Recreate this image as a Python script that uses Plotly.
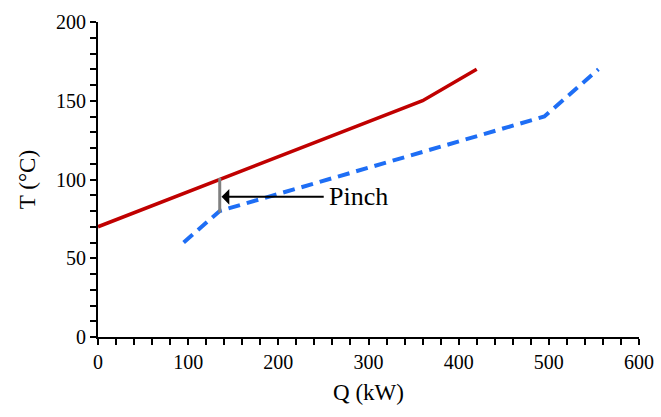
import plotly.graph_objects as go

hot_q = [0, 360, 420]
hot_t = [70, 150, 170]
cold_q = [95, 135, 495, 555]
cold_t = [60, 80, 140, 170]
pinch_q = [135, 135]
pinch_t = [79, 101]
arrow_head = (137, 89)
arrow_tail = (252, 89)
pinch_label = "Pinch"

fig = go.Figure()
fig.add_trace(go.Scatter(x=hot_q, y=hot_t, mode="lines",
                         line=dict(color="#C00000", width=3.5), showlegend=False))
fig.add_trace(go.Scatter(x=cold_q, y=cold_t, mode="lines",
                         line=dict(color="#1E6EF5", width=4, dash="12px,7px"), showlegend=False))
fig.add_trace(go.Scatter(x=pinch_q, y=pinch_t, mode="lines",
                         line=dict(color="#808080", width=3), showlegend=False))

fig.add_annotation(x=arrow_head[0], y=arrow_head[1], ax=arrow_tail[0], ay=arrow_tail[1],
                   axref="x", ayref="y", xref="x", yref="y", text="", showarrow=True,
                   arrowhead=1, arrowsize=1.3, arrowwidth=2, arrowcolor="black")
fig.add_annotation(x=arrow_tail[0] + 2, y=arrow_tail[1], xref="x", yref="y",
                   text=pinch_label, showarrow=False, xanchor="left", yanchor="middle",
                   font=dict(family="Liberation Serif", size=26, color="black"))

axis_common = dict(showline=True, linecolor="black", linewidth=2, ticks="outside",
                   ticklen=6, tickwidth=2, tickcolor="black", showgrid=False, zeroline=False,
                   automargin=False,
                   tickfont=dict(family="Liberation Serif", size=20, color="black"))

fig.update_xaxes(range=[0, 600], dtick=100,
                 minor=dict(dtick=20, ticks="outside", ticklen=6, tickwidth=2, tickcolor="black", showgrid=False),
                 title=dict(text="Q (kW)", font=dict(family="Liberation Serif", size=23, color="black"), standoff=12),
                 **axis_common)
fig.update_yaxes(range=[0, 200], dtick=50,
                 minor=dict(dtick=10, ticks="outside", ticklen=6, tickwidth=2, tickcolor="black", showgrid=False),
                 title=dict(text="T (°C)", font=dict(family="Liberation Serif", size=23, color="black"), standoff=14),
                 **axis_common)

fig.update_layout(width=661, height=417, margin=dict(l=98, r=22, t=22, b=80, autoexpand=False),
                  plot_bgcolor="white", paper_bgcolor="white")

fig.write_html("out.html")
